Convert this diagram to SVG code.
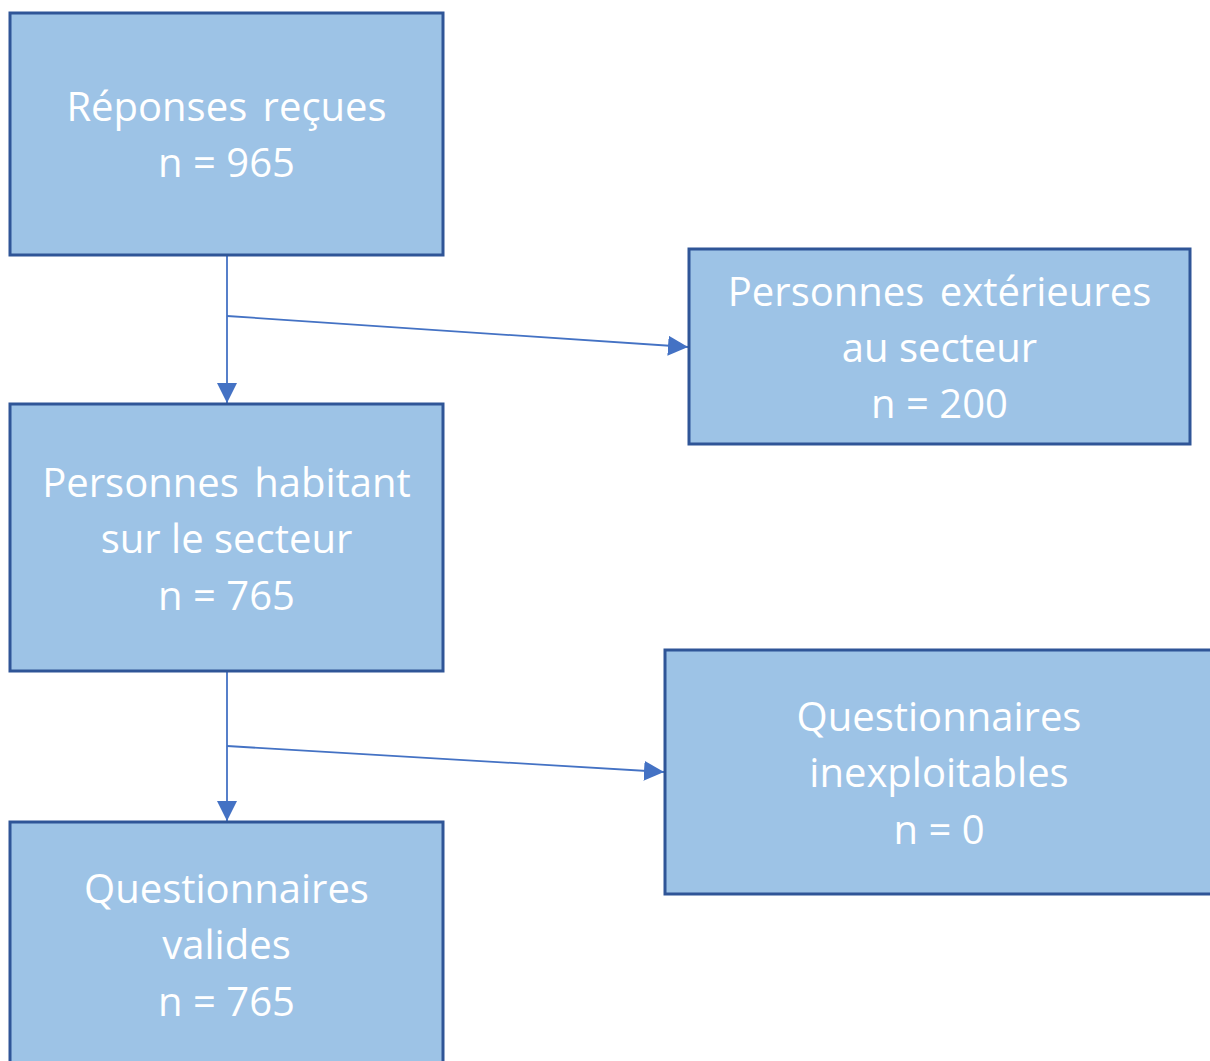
<svg xmlns="http://www.w3.org/2000/svg" width="1210" height="1061" viewBox="0 0 1210 1061">
<style>
.box{fill:#9DC3E6;stroke:#2F5597;stroke-width:3}
.t{font-family:"Open Sans","Noto Sans","Liberation Sans",sans-serif;font-size:40px;fill:#FFFFFF;text-anchor:middle}
.w{word-spacing:5px}
.c{stroke:#4472C4;stroke-width:1.8;fill:none}
</style>
<defs>
<marker id="ah2" viewBox="0 0 20 20" refX="20" refY="10" markerWidth="20" markerHeight="20" markerUnits="userSpaceOnUse" orient="auto">
<path d="M0,0 L20,10 L0,20 Z" fill="#4472C4"/>
</marker>
</defs>
<g id="connectors">
<line class="c" x1="227" y1="256" x2="227" y2="403" marker-end="url(#ah2)"/>
<line class="c" x1="227" y1="316" x2="688" y2="347" marker-end="url(#ah2)"/>
<line class="c" x1="227" y1="672" x2="227" y2="821" marker-end="url(#ah2)"/>
<line class="c" x1="227" y1="746" x2="664" y2="772" marker-end="url(#ah2)"/>
</g>
<g id="n1">
<rect class="box" x="10" y="13" width="433" height="242"/>
<text class="t w" x="226.5" y="121">Réponses reçues</text>
<text class="t" x="226.5" y="177">n = 965</text>
</g>
<g id="n2">
<rect class="box" x="689" y="249" width="501" height="195"/>
<text class="t w" x="939.5" y="306">Personnes extérieures</text>
<text class="t" x="939.5" y="362">au secteur</text>
<text class="t" x="939.5" y="418">n = 200</text>
</g>
<g id="n3">
<rect class="box" x="10" y="404" width="433" height="267"/>
<text class="t w" x="226.5" y="497">Personnes habitant</text>
<text class="t" x="226.5" y="553">sur le secteur</text>
<text class="t" x="226.5" y="610">n = 765</text>
</g>
<g id="n4">
<rect class="box" x="665" y="650" width="550" height="244"/>
<text class="t" x="939" y="731">Questionnaires</text>
<text class="t" x="939" y="787">inexploitables</text>
<text class="t" x="939" y="844">n = 0</text>
</g>
<g id="n5">
<rect class="box" x="10" y="822" width="433" height="250"/>
<text class="t" x="226.5" y="903">Questionnaires</text>
<text class="t" x="226.5" y="959">valides</text>
<text class="t" x="226.5" y="1016">n = 765</text>
</g>
</svg>
